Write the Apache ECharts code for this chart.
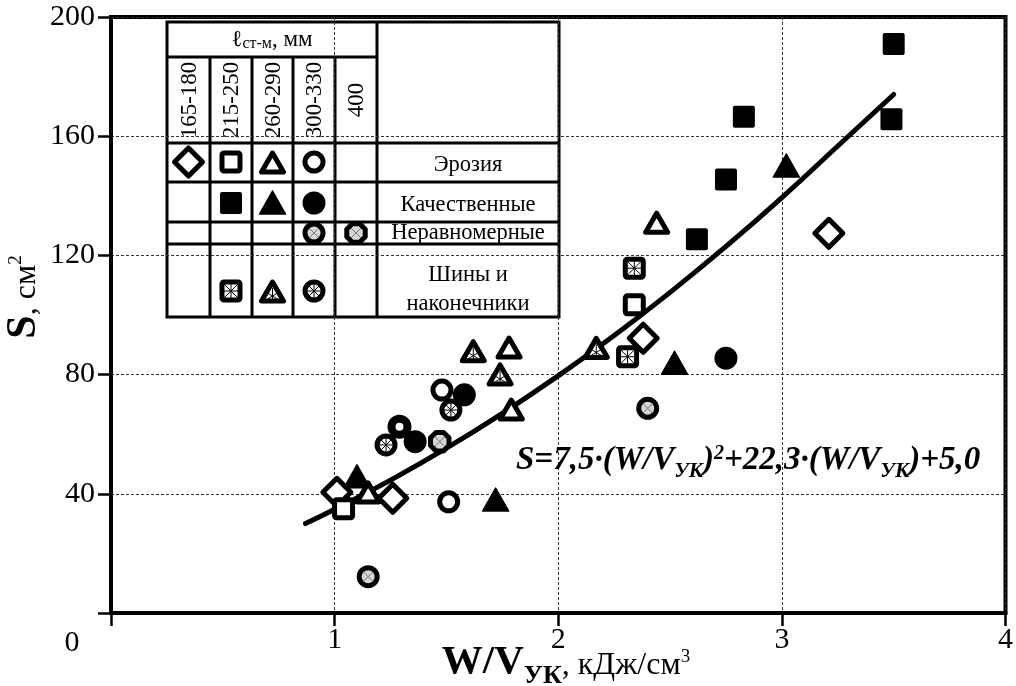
<!DOCTYPE html>
<html>
<head>
<meta charset="utf-8">
<script src="https://cdn.jsdelivr.net/npm/echarts@6/dist/echarts.min.js"></script>
<style>
html,body{margin:0;padding:0;background:#fff;}
#chart{width:1016px;height:686px;}
</style>
</head>
<body>
<div id="chart"></div>
<script>
// ---------- DATA ----------
// x = W/V_УК (кДж/см3), y = S (см2)
const erosionDiamond165   = [[1.01,40.5],[1.26,38.5],[2.38,92.2],[3.21,127.4]];
const erosionSquare215    = [[1.04,35.0],[2.34,103.4]];
const erosionTriangle260  = [[1.15,40.3],[1.78,88.9],[1.79,68.1],[2.44,130.8]];
const erosionCircle300    = [[1.51,37.3],[1.48,74.8]];
const erosionCircleSmall  = [[1.29,62.5]];
const qualitySquare215    = [[2.62,125.4],[2.75,145.5],[2.83,166.5],[3.49,165.7],[3.50,190.9]];
const qualityTriangle260  = [[1.10,45.7],[1.72,37.9],[2.52,83.8],[3.02,150.0]];
const qualityCircle300    = [[1.36,57.5],[1.58,73.2],[2.75,85.5]];
const unevenCircle300     = [[1.15,12.2],[2.40,68.7]];
const unevenOctagon400    = [[1.47,57.5]];
const busSquare215        = [[2.31,86.0],[2.34,115.7]];
const busTriangle260      = [[1.62,87.7],[1.74,79.9],[2.17,88.8]];
const busCircle300        = [[1.23,56.4],[1.52,68.1]];
// fitted curve
const trendLine = [[0.87,30.0],[1.0,34.8],[1.25,44.6],[1.5,55.3],[1.75,67.0],[2.0,79.6],
                   [2.25,93.1],[2.5,107.6],[2.75,123.0],[3.0,139.4],[3.25,156.7],[3.5,174.0]];

const xMin = 0, xMax = 4, xStep = 1;
const yMin = 0, yMax = 200, yStep = 40;

const lengthLabels = ['165-180','215-250','260-290','300-330','400'];
const typeLabels = ['Эрозия','Качественные','Неравномерные','Шины и','наконечники'];
const headerLabel = 'ℓ';
const headerSub = 'ст-м';
const headerTail = ', мм';
// ---------------------------------------------------

const FONT = "'Liberation Serif','Times New Roman',serif";
const K = '#000', W = '#fff', H = '#d6d6d6';

function shapeChildren(kind) {
  const lines = (segs, lw, col) => segs.map(s => ({type:'line', shape:{x1:s[0],y1:s[1],x2:s[2],y2:s[3]}, style:{stroke:col||K, lineWidth:lw||1}}));
  switch (kind) {
    case 'diamond': return [{type:'polygon', shape:{points:[[0,-14],[14,0],[0,14],[-14,0]]}, style:{fill:W, stroke:K, lineWidth:5, lineJoin:'round'}}];
    case 'square': return [{type:'rect', shape:{x:-9,y:-9,width:18,height:18,r:2}, style:{fill:W, stroke:K, lineWidth:5}}];
    case 'triangle': return [{type:'polygon', shape:{points:[[0,-10],[11,9],[-11,9]]}, style:{fill:W, stroke:K, lineWidth:5, lineJoin:'round'}}];
    case 'circle': return [{type:'circle', shape:{cx:0,cy:0,r:9}, style:{fill:W, stroke:K, lineWidth:5}}];
    case 'ring': return [{type:'circle', shape:{cx:0,cy:0,r:8}, style:{fill:W, stroke:K, lineWidth:8}}];
    case 'fsquare': return [{type:'rect', shape:{x:-11,y:-11,width:22,height:22,r:2}, style:{fill:K}}];
    case 'ftriangle': return [{type:'polygon', shape:{points:[[0,-12],[13,11],[-13,11]]}, style:{fill:K, stroke:K, lineWidth:1.5, lineJoin:'round'}}];
    case 'fcircle': return [{type:'circle', shape:{cx:0,cy:0,r:11.5}, style:{fill:K}}];
    case 'hcircle': return [{type:'circle', shape:{cx:0,cy:0,r:9}, style:{fill:H, stroke:K, lineWidth:5}}]
        .concat(lines([[-5,-5,5,5],[-5,5,5,-5]], 1, '#777'));
    case 'octagon': {
      const pts = [];
      for (let i = 0; i < 8; i++) { const a = Math.PI/8 + i*Math.PI/4; pts.push([10*Math.cos(a), 10*Math.sin(a)]); }
      return [{type:'polygon', shape:{points:pts}, style:{fill:H, stroke:K, lineWidth:5, lineJoin:'round'}}]
        .concat(lines([[-5,-5,5,5],[-5,5,5,-5]], 1, '#777'));
    }
    case 'asquare': return [{type:'rect', shape:{x:-9,y:-9,width:18,height:18,r:2}, style:{fill:W, stroke:K, lineWidth:5}}]
        .concat(lines([[-7,0,7,0],[0,-7,0,7],[-7,-7,7,7],[-7,7,7,-7]], 1));
    case 'atriangle': return [{type:'polygon', shape:{points:[[0,-10],[11,9],[-11,9]]}, style:{fill:W, stroke:K, lineWidth:5, lineJoin:'round'}}]
        .concat(lines([[0,-4,0,8],[-5,1,5,7],[5,1,-5,7]], 1));
    case 'acircle': return [{type:'circle', shape:{cx:0,cy:0,r:9}, style:{fill:W, stroke:K, lineWidth:5}}]
        .concat(lines([[-7,0,7,0],[0,-7,0,7],[-5,-5,5,5],[-5,5,5,-5]], 1));
  }
  return [];
}

const groups = [
  {name:'Эрозия 165-180', kind:'diamond', data:erosionDiamond165},
  {name:'Эрозия 215-250', kind:'square', data:erosionSquare215},
  {name:'Эрозия 260-290', kind:'triangle', data:erosionTriangle260},
  {name:'Эрозия 300-330', kind:'circle', data:erosionCircle300},
  {name:'Эрозия 300-330 (2)', kind:'ring', data:erosionCircleSmall},
  {name:'Качественные 215-250', kind:'fsquare', data:qualitySquare215},
  {name:'Качественные 260-290', kind:'ftriangle', data:qualityTriangle260},
  {name:'Качественные 300-330', kind:'fcircle', data:qualityCircle300},
  {name:'Неравномерные 300-330', kind:'hcircle', data:unevenCircle300},
  {name:'Неравномерные 400', kind:'octagon', data:unevenOctagon400},
  {name:'Шины 215-250', kind:'asquare', data:busSquare215},
  {name:'Шины 260-290', kind:'atriangle', data:busTriangle260},
  {name:'Шины 300-330', kind:'acircle', data:busCircle300}
];

const series = [{
  type:'line', name:'trend', data:trendLine, smooth:true, showSymbol:false, symbol:'none',
  lineStyle:{color:K, width:5, cap:'round'}, z:2, silent:true
}].concat(groups.map(g => ({
  type:'custom', name:g.name, data:g.data, z:3, silent:true,
  renderItem:(params, api) => {
    const p = api.coord([api.value(0), api.value(1)]);
    return {type:'group', x:p[0], y:p[1], children:shapeChildren(g.kind)};
  }
})));

// ---------- legend table (graphic) ----------
const colX = [167,210,252,293,335,377,559];
const rowY = [22,57,143,182,222,244,317];
const tableEls = [];
tableEls.push({type:'rect', shape:{x:colX[0], y:rowY[0], width:colX[6]-colX[0], height:rowY[6]-rowY[0]}, style:{fill:W, stroke:K, lineWidth:3}});
const L = (x1,y1,x2,y2) => tableEls.push({type:'line', shape:{x1,y1,x2,y2}, style:{stroke:K, lineWidth:3}});
for (let i = 1; i <= 4; i++) L(colX[i], rowY[1], colX[i], rowY[6]);
L(colX[5], rowY[0], colX[5], rowY[6]);
L(colX[0], rowY[1], colX[5], rowY[1]);
for (let j = 2; j <= 5; j++) L(colX[0], rowY[j], colX[6], rowY[j]);

tableEls.push({type:'text', x:(colX[0]+colX[5])/2, y:40, style:{
  text:'{a|' + headerLabel + '}{s|' + headerSub + '}{a|' + headerTail + '}',
  align:'center', verticalAlign:'middle', fill:K,
  rich:{a:{fontFamily:FONT, fontSize:23, lineHeight:24, verticalAlign:'top', fill:K},
        s:{fontFamily:FONT, fontSize:16, lineHeight:16, verticalAlign:'bottom', fill:K}}
}});
lengthLabels.forEach((t, i) => {
  tableEls.push({type:'text', x:(colX[i]+colX[i+1])/2 + 1, y:100, rotation:Math.PI/2,
    style:{text:t, fontFamily:FONT, fontSize:23, fill:K, align:'center', verticalAlign:'middle'}});
});
const typeY = [165, 205, 233, 275, 304];
typeLabels.forEach((t, i) => {
  tableEls.push({type:'text', x:(colX[5]+colX[6])/2, y:typeY[i],
    style:{text:t, fontFamily:FONT, fontSize:22.5, fill:K, align:'center', verticalAlign:'middle'}});
});
const cellX = i => (colX[i]+colX[i+1])/2;
const legendMarks = [
  ['diamond',0,162],['square',1,162],['triangle',2,163],['circle',3,162],
  ['fsquare',1,203],['ftriangle',2,203],['fcircle',3,203],
  ['hcircle',3,233],['octagon',4,233],
  ['asquare',1,291],['atriangle',2,292],['acircle',3,291]
];
legendMarks.forEach(m => tableEls.push({type:'group', x:cellX(m[1]), y:m[2], children:shapeChildren(m[0])}));

// ---------- texts ----------
const texts = [
  {type:'text', x:72, y:643, style:{text:'0', fontFamily:FONT, fontSize:30, fill:K, align:'center', verticalAlign:'middle'}},
  {type:'text', x:566, y:642, style:{
    text:'{b|W/V}{bs|УК}{r|, кДж/см}{sup|3}', align:'center', verticalAlign:'top', fill:K,
    rich:{
      b:{fontFamily:FONT, fontWeight:'bold', fontSize:41, lineHeight:41, verticalAlign:'top', fill:K},
      bs:{fontFamily:FONT, fontWeight:'bold', fontSize:26, lineHeight:26, padding:[21,0,0,0], verticalAlign:'top', fill:K},
      r:{fontFamily:FONT, fontSize:32, lineHeight:32, padding:[8,0,0,0], verticalAlign:'top', fill:K},
      sup:{fontFamily:FONT, fontSize:19, lineHeight:19, padding:[6,0,0,0], verticalAlign:'top', fill:K}
    }}},
  {type:'text', x:24, y:297, rotation:Math.PI/2, style:{
    text:'{b|S}{r|, см}{sup|2}', align:'center', verticalAlign:'middle', fill:K,
    rich:{
      b:{fontFamily:FONT, fontWeight:'bold', fontSize:42, lineHeight:42, verticalAlign:'top', fill:K},
      r:{fontFamily:FONT, fontSize:32, lineHeight:32, padding:[8,0,0,0], verticalAlign:'top', fill:K},
      sup:{fontFamily:FONT, fontSize:19, lineHeight:19, padding:[4,0,0,0], verticalAlign:'top', fill:K}
    }}},
  {type:'text', x:516, y:460, style:{
    text:'{e|S=7,5·(W/V}{es|УК}{e|)}{sup|2}{e|+22,3·(W/V}{es|УК}{e|)+5,0}',
    align:'left', verticalAlign:'middle', fill:K,
    rich:{
      e:{fontFamily:FONT, fontWeight:'bold', fontStyle:'italic', fontSize:33, lineHeight:33, verticalAlign:'top', fill:K},
      es:{fontFamily:FONT, fontWeight:'bold', fontStyle:'italic', fontSize:21, lineHeight:21, padding:[18,0,0,0], verticalAlign:'top', fill:K},
      sup:{fontFamily:FONT, fontWeight:'bold', fontStyle:'italic', fontSize:20, lineHeight:20, padding:[0,0,0,0], verticalAlign:'top', fill:K}
    }}}
];

const chart = echarts.init(document.getElementById('chart'), null, {renderer:'canvas'});
chart.setOption({
  animation:false,
  backgroundColor:'#fff',
  grid:{left:111, right:8, top:17, bottom:73, show:true, borderColor:K, borderWidth:4, backgroundColor:'transparent'},
  xAxis:{
    type:'value', min:xMin, max:xMax, interval:xStep,
    axisLine:{show:true, lineStyle:{color:K, width:4}},
    axisTick:{show:true, length:13, lineStyle:{color:K, width:2.5}},
    axisLabel:{formatter:v => v === 0 ? '' : String(v), fontFamily:FONT, fontSize:30, color:K, margin:12, showMaxLabel:true},
    splitLine:{show:true, lineStyle:{color:'#333', width:1, type:[3,2]}}
  },
  yAxis:{
    type:'value', min:yMin, max:yMax, interval:yStep,
    axisLine:{show:true, lineStyle:{color:K, width:4}},
    axisTick:{show:true, length:13, lineStyle:{color:K, width:2.5}},
    axisLabel:{formatter:v => v === 0 ? '' : String(v), fontFamily:FONT, fontSize:30, color:K, margin:16},
    splitLine:{show:true, lineStyle:{color:'#333', width:1, type:[3,2]}}
  },
  series:series,
  graphic:{elements:[{type:'group', z:10, children:tableEls}].concat(texts.map(t => Object.assign({z:10}, t)))}
});
</script>
</body>
</html>
